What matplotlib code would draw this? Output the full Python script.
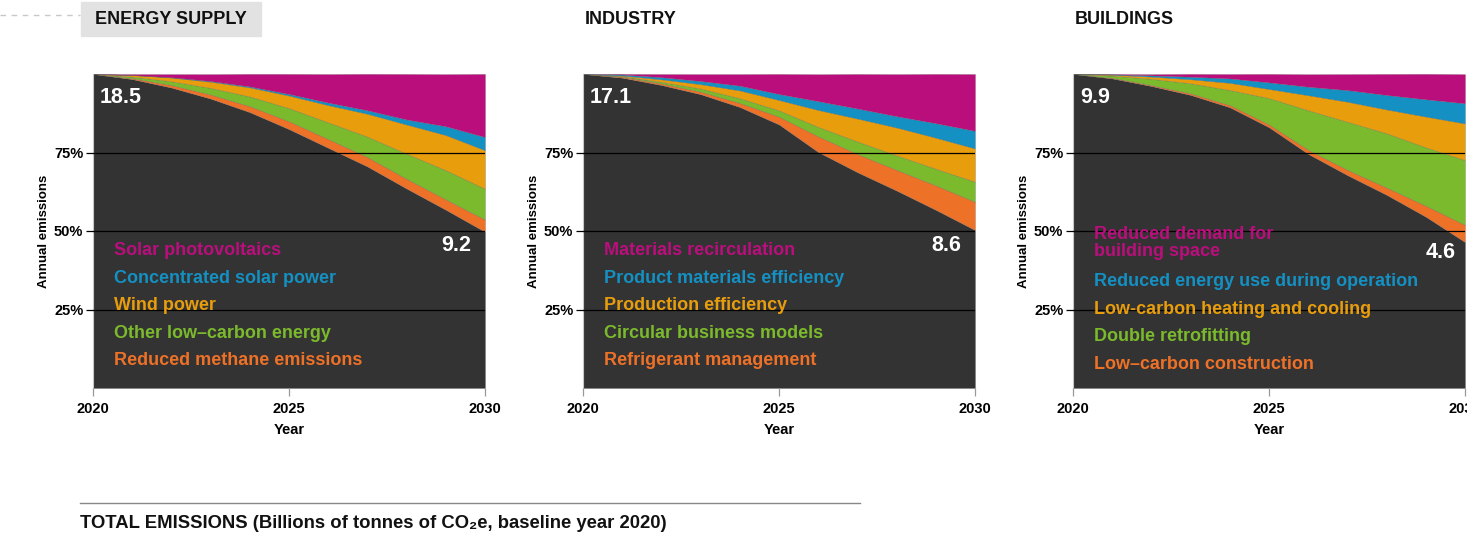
import matplotlib.pyplot as plt
from matplotlib.patches import Rectangle
from matplotlib.lines import Line2D

plt.rcParams['font.family'] = ['Liberation Sans', 'DejaVu Sans']

years = [2020, 2021, 2022, 2023, 2024, 2025, 2026, 2027, 2028, 2029, 2030]

# emissions still left each year, billions of tonnes CO2e
energy_left = [18.5, 18.2, 17.7, 17.05, 16.25, 15.25, 14.15, 13.05, 11.75, 10.5, 9.2]
industry_left = [17.1, 16.9, 16.5, 16.0, 15.3, 14.35, 12.85, 11.75, 10.75, 9.7, 8.6]
buildings_left = [9.9, 9.76, 9.52, 9.24, 8.85, 8.22, 7.38, 6.71, 6.09, 5.4, 4.6]

# cuts per solution, in percentage points of the 2020 level (bottom to top)
energy_methane = [0, 0.3, 0.8, 1.3, 1.9, 2.5, 2.8, 3.0, 3.1, 3.3, 3.9]
energy_other = [0, 0.5, 1.2, 2.1, 3.1, 4.2, 5.3, 6.5, 8.0, 9.3, 9.8]
energy_wind = [0, 0.5, 1.2, 2.0, 2.9, 4.0, 5.5, 7.3, 9.3, 11.2, 12.3]
energy_csp = [0, 0, 0.1, 0.2, 0.3, 0.5, 0.8, 1.1, 1.6, 2.8, 4.2]
energy_pv = [0, 0.3, 1.0, 2.2, 4.0, 6.4, 9.1, 11.6, 14.5, 16.6, 20.1]

industry_refrig = [0, 0.3, 0.5, 0.8, 1.3, 2.5, 5.0, 5.8, 6.6, 7.8, 9.0]
industry_circular = [0, 0.2, 0.5, 1.0, 1.5, 2.0, 3.0, 4.0, 4.6, 5.3, 6.4]
industry_production = [0, 0.2, 0.8, 1.4, 2.5, 3.3, 5.4, 7.3, 8.9, 9.9, 10.6]
industry_product = [0, 0.3, 0.7, 1.0, 1.5, 1.9, 2.8, 3.2, 3.6, 4.6, 5.6]
industry_recirc = [0, 0.2, 1.0, 2.2, 3.7, 6.4, 8.6, 11.0, 13.4, 15.7, 18.1]

buildings_construction = [0, 0.2, 0.3, 0.5, 0.7, 0.9, 1.3, 1.7, 2.3, 3.5, 5.5]
buildings_retrofit = [0, 0.7, 2.0, 3.2, 4.8, 8.4, 12.6, 15.3, 17.3, 18.6, 20.6]
buildings_heating = [0, 0.3, 0.7, 1.3, 2.3, 2.9, 4.8, 6.4, 7.6, 9.8, 11.7]
buildings_operation = [0, 0.1, 0.4, 0.8, 1.4, 2.1, 2.7, 3.7, 4.6, 5.5, 6.4]
buildings_space = [0, 0.1, 0.4, 0.9, 1.4, 2.7, 4.0, 5.1, 6.7, 8.1, 9.3]

energy_names = ['Solar photovoltaics', 'Concentrated solar power', 'Wind power',
                'Other low\u2013carbon energy', 'Reduced methane emissions']
industry_names = ['Materials recirculation', 'Product materials efficiency',
                  'Production efficiency', 'Circular business models',
                  'Refrigerant management']
buildings_names = ['Reduced demand for\nbuilding space',
                   'Reduced energy use during operation',
                   'Low-carbon heating and cooling', 'Double retrofitting',
                   'Low\u2013carbon construction']

DARK = '#333333'
colors = ['#EE7128', '#7BBA2C', '#E89D0C', '#1490C2', '#BA0E7D']  # bottom to top
text_colors = colors[::-1]

W, H = 1467, 533
fig = plt.figure(figsize=(W / 100, H / 100), dpi=100)


def fx(px):
    return px / W


def fy(py):
    return 1 - py / H


def panel(left_px, title, left, cuts, names, end_pos, legend_y):
    ax = fig.add_axes([fx(left_px), fy(388), 392 / W, 314 / H])
    pct = [v / left[0] * 100 for v in left]
    ax.stackplot(years, pct, *cuts, colors=[DARK] + colors, lw=0.3,
                 edgecolor='#55555588')
    ax.set_xlim(2020, 2030)
    ax.set_ylim(0, 100)
    ax.set_yticks([25, 50, 75])
    ax.set_yticklabels(['25%', '50%', '75%'])
    ax.set_xticks([2020, 2025, 2030])
    ax.yaxis.grid(True, color='black', lw=0.9)
    ax.set_axisbelow(False)
    for s in ['top', 'right', 'bottom']:
        ax.spines[s].set_visible(False)
    ax.spines['left'].set_color('#c8c8c8')
    ax.tick_params(axis='y', length=5, width=0.9, color='black', pad=2,
                   labelsize=10.5)
    ax.tick_params(axis='x', length=6, width=0.9, color='#999999', pad=4,
                   labelsize=10.5)
    for lab in ax.get_xticklabels() + ax.get_yticklabels():
        lab.set_fontweight('bold')
    ax.set_ylabel('Annual emissions', fontsize=9.5, fontweight='bold')
    ax.yaxis.set_label_coords(-0.11, 0.5)
    ax.set_xlabel('Year', fontsize=10.5, fontweight='bold', labelpad=5)

    # start and end values
    ax.text(2020.18, 92.5, f'{left[0]:.1f}', color='white', fontsize=15.5,
            fontweight='bold', va='center', ha='left')
    ax.text(end_pos[0], end_pos[1], f'{left[-1]:.1f}', color='white',
            fontsize=15.5, fontweight='bold', va='center', ha='right')

    for name, c, y in zip(names, text_colors, legend_y):
        ax.text(2020.53, y, name, color=c, fontsize=13, fontweight='bold',
                va='center', ha='left', linespacing=1.05)

    fig.text(fx(left_px + 2), fy(19), title, fontsize=13, fontweight='bold',
             va='center', ha='left', color='#111111')
    return ax


legend_rows = [43.8, 35.0, 26.3, 17.4, 8.7]

panel(93, 'ENERGY SUPPLY', energy_left,
      [energy_methane, energy_other, energy_wind, energy_csp, energy_pv],
      energy_names, (2029.65, 45.5), legend_rows)
panel(583, 'INDUSTRY', industry_left,
      [industry_refrig, industry_circular, industry_production,
       industry_product, industry_recirc],
      industry_names, (2029.65, 45.5), legend_rows)
panel(1073, 'BUILDINGS', buildings_left,
      [buildings_construction, buildings_retrofit, buildings_heating,
       buildings_operation, buildings_space],
      buildings_names, (2029.75, 43.3), [46.2, 33.8, 25.1, 16.3, 7.6])

# grey tab behind the first heading plus the dashed lead-in
fig.patches.append(Rectangle((fx(81), fy(36)), fx(180), 34 / H,
                             transform=fig.transFigure, color='#e2e2e2',
                             zorder=0))
fig.lines.append(Line2D([fx(0), fx(80)], [fy(15), fy(15)],
                        transform=fig.transFigure, color='#c8c8c8', lw=1,
                        ls=(0, (4, 4))))

# footer rule and caption
fig.lines.append(Line2D([fx(80), fx(860)], [fy(503), fy(503)],
                        transform=fig.transFigure, color='#888888', lw=1))
fig.text(fx(80), fy(524),
         'TOTAL EMISSIONS (Billions of tonnes of CO\u2082e, baseline year 2020)',
         fontsize=13.3, fontweight='bold', va='center', ha='left',
         color='#111111')

fig.savefig('out.png', dpi=100)
